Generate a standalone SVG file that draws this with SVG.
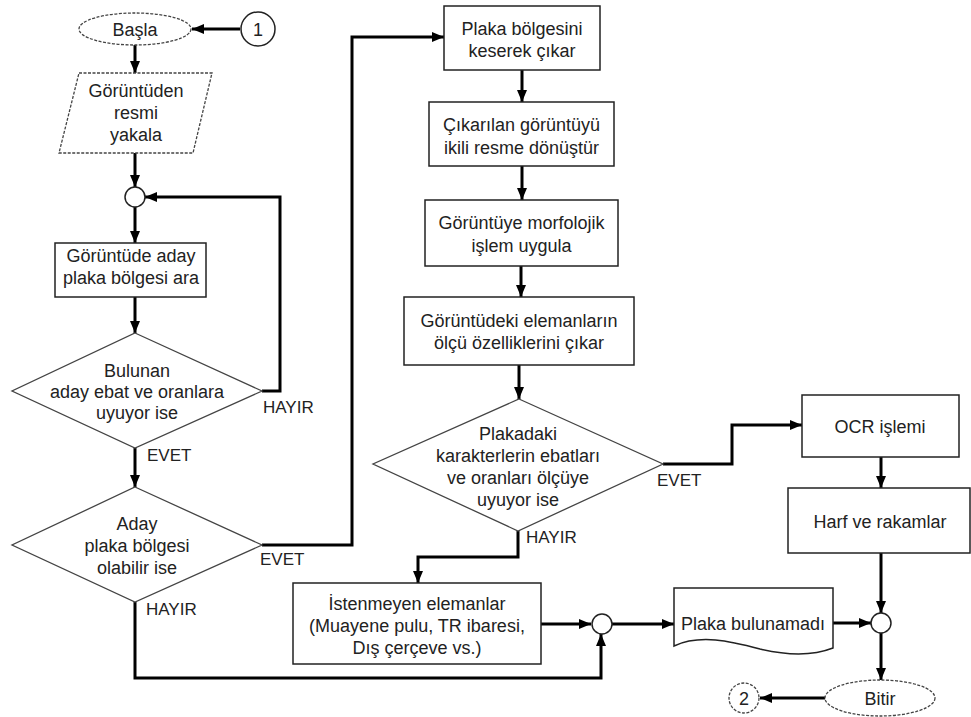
<svg xmlns="http://www.w3.org/2000/svg" width="971" height="717" viewBox="0 0 971 717">
<defs>
<marker id="ah" markerUnits="userSpaceOnUse" markerWidth="13" markerHeight="11" refX="12" refY="5" orient="auto">
<path d="M0,0 L12,5 L0,10 z" fill="#000"/>
</marker>
</defs>
<style>
.n{fill:#fff;stroke:#222;stroke-width:1.5}
.d{fill:#fff;stroke:#444;stroke-width:1.3}
.ds{fill:#fff;stroke:#444;stroke-width:1.3;stroke-dasharray:3 1.5}
.t{font-family:"Liberation Sans",Arial,sans-serif;font-size:18px;fill:#222;text-anchor:middle}
.l{font-family:"Liberation Sans",Arial,sans-serif;font-size:17px;fill:#222}
.c{fill:none;stroke:#000;stroke-width:3}
.a{marker-end:url(#ah)}
</style>
<rect width="971" height="717" fill="#fff"/>
<g id="connectors">
<path class="c a" d="M240,29 L192,29"/>
<path class="c a" d="M135,45 L135,73"/>
<path class="c a" d="M135,153 L135,187"/>
<path class="c a" d="M135,207 L135,243"/>
<path class="c a" d="M135,297 L135,333"/>
<path class="c a" d="M262,391 L280,391 L280,197 L145,197"/>
<path class="c a" d="M135,448 L135,487"/>
<path class="c a" d="M262,545 L352,545 L352,37 L444,37"/>
<path class="c a" d="M135,602 L135,678 L601,678 L601,634"/>
<path class="c a" d="M522,70 L522,102"/>
<path class="c a" d="M522,166 L522,200"/>
<path class="c a" d="M521,266 L521,297"/>
<path class="c a" d="M519,365 L519,399"/>
<path class="c a" d="M663,464 L732,464 L732,425 L802,425"/>
<path class="c a" d="M518,531 L518,557 L418,557 L418,583"/>
<path class="c a" d="M541,624 L591,624"/>
<path class="c a" d="M612,624 L674,624"/>
<path class="c a" d="M881,457 L881,488"/>
<path class="c a" d="M881,553 L881,613"/>
<path class="c a" d="M833,623 L871,623"/>
<path class="c a" d="M881,633 L881,680"/>
<path class="c a" d="M825,698 L760,698"/>
</g>
<g id="c1"><circle class="n" cx="258" cy="29" r="17"/><text class="t" x="258" y="35.5">1</text></g>
<g id="start"><ellipse class="ds" cx="135" cy="29" rx="56" ry="16"/><text class="t" x="135" y="35.5">Başla</text></g>
<g id="capture"><polygon class="ds" points="79,73 212,73 193,153 59,153"/>
<text class="t" x="136" y="96.5">Görüntüden</text><text class="t" x="136" y="118.5">resmi</text><text class="t" x="136" y="140.5">yakala</text></g>
<g id="j1"><circle class="n" cx="135" cy="197" r="10"/></g>
<g id="search"><rect class="n" x="55" y="243" width="151" height="54"/>
<text class="t" x="131" y="261.5">Görüntüde aday</text><text class="t" x="131" y="283.5">plaka bölgesi ara</text></g>
<g id="dec1"><polygon class="d" points="135,333 262,391 135,448 12,391"/>
<text class="t" x="137" y="376.5">Bulunan</text><text class="t" x="137" y="397.5">aday ebat ve oranlara</text><text class="t" x="137" y="418.5">uyuyor ise</text></g>
<g id="dec2"><polygon class="d" points="135,487 262,545 135,602 12,545"/>
<text class="t" x="137" y="529.5">Aday</text><text class="t" x="137" y="551.5">plaka bölgesi</text><text class="t" x="137" y="573.5">olabilir ise</text></g>
<g id="labels">
<text class="l" x="263" y="413">HAYIR</text>
<text class="l" x="147" y="461">EVET</text>
<text class="l" x="260" y="565">EVET</text>
<text class="l" x="146" y="615">HAYIR</text>
<text class="l" x="657" y="486">EVET</text>
<text class="l" x="526" y="543">HAYIR</text>
</g>
<g id="crop"><rect class="n" x="444" y="6" width="156" height="64"/>
<text class="t" x="522" y="34.5">Plaka bölgesini</text><text class="t" x="522" y="56.5">keserek çıkar</text></g>
<g id="binary"><rect class="n" x="429" y="102" width="185" height="64"/>
<text class="t" x="521.5" y="130.5">Çıkarılan görüntüyü</text><text class="t" x="521.5" y="153.5">ikili resme dönüştür</text></g>
<g id="morph"><rect class="n" x="425" y="200" width="193" height="66"/>
<text class="t" x="521.5" y="228.5">Görüntüye morfolojik</text><text class="t" x="521.5" y="251.5">işlem uygula</text></g>
<g id="measure"><rect class="n" x="404" y="297" width="230" height="68"/>
<text class="t" x="519" y="326.5">Görüntüdeki elemanların</text><text class="t" x="519" y="348.5">ölçü özelliklerini çıkar</text></g>
<g id="dec3"><polygon class="d" points="519,399 663,464 518,531 373,464"/>
<text class="t" x="518" y="439.5">Plakadaki</text><text class="t" x="518" y="461.5">karakterlerin ebatları</text><text class="t" x="518" y="483.5">ve oranları ölçüye</text><text class="t" x="518" y="505.5">uyuyor ise</text></g>
<g id="unwanted"><rect class="n" x="293" y="583" width="248" height="81"/>
<text class="t" x="417" y="609.5">İstenmeyen elemanlar</text><text class="t" x="417" y="631.5">(Muayene pulu, TR ibaresi,</text><text class="t" x="417" y="653.5">Dış çerçeve vs.)</text></g>
<g id="j2"><circle class="n" cx="602" cy="624" r="10"/></g>
<g id="notfound"><path class="n" d="M674,588 H833 V648 C815,655 790,656 760,649 C730,641 700,634 674,646 Z"/>
<text class="t" x="753" y="629.5">Plaka bulunamadı</text></g>
<g id="ocr"><rect class="n" x="802" y="395" width="157" height="62"/><text class="t" x="880" y="432.5">OCR işlemi</text></g>
<g id="chars"><rect class="n" x="788" y="488" width="182" height="65"/><text class="t" x="880" y="527.5">Harf ve rakamlar</text></g>
<g id="j3"><circle class="n" cx="881" cy="623" r="10"/></g>
<g id="end"><ellipse class="ds" cx="880" cy="698" rx="55" ry="18"/><text class="t" x="880" y="704.5">Bitir</text></g>
<g id="c2"><circle class="ds" cx="744" cy="698" r="15"/><text class="t" x="744" y="704.5">2</text></g>
</svg>
